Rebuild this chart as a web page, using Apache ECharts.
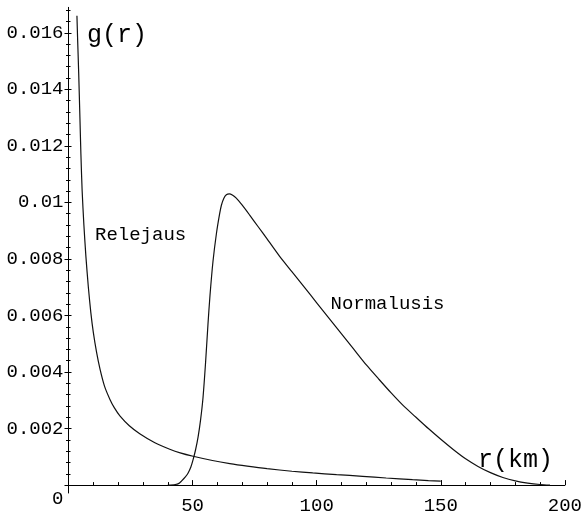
<!DOCTYPE html>
<html>
<head>
<meta charset="utf-8">
<title>g(r)</title>
<script src="https://cdn.jsdelivr.net/npm/echarts@6/dist/echarts.min.js"></script>
<style>
  html, body { margin: 0; padding: 0; background: #fff; }
  #chart { width: 585px; height: 515px; }
</style>
</head>
<body>
<div id="chart"></div>
<script>
// Rayleigh-type density ("Relejaus"): distance r in km, density g(r)
const relejausR = [3.4, 3.7, 4.1, 4.6, 5.0, 5.5, 6.2, 7.0, 8.0, 9.0, 10, 11.3, 12.7, 14.5, 16.7, 18.5, 20.7, 24.5, 28.7, 34.8, 40.8, 45, 50.2, 58, 65, 72, 80, 90, 98.4, 108, 118.5, 128, 138.6, 145, 150];
const relejausG = [0.0166, 0.0157, 0.0146, 0.0130, 0.0117, 0.0104, 0.0092, 0.0081, 0.0070, 0.0061, 0.0054, 0.0047, 0.0041, 0.0035, 0.00303, 0.00273, 0.00245, 0.0021, 0.00182, 0.0015, 0.00127, 0.00114, 0.00102, 0.00087, 0.00076, 0.00067, 0.00058, 0.00049, 0.00043, 0.00037, 0.00031, 0.00025, 0.00019, 0.00016, 0.00014];

// Normal density ("Normalusis")
const normalR = [40, 43, 44.5, 45.5, 47, 48.2, 49.3, 50.2, 51.2, 52.2, 53.2, 54.2, 55.2, 56.2, 57.0, 58.2, 59.6, 60.9, 61.6, 62.6, 63.6, 64.8, 66, 67.6, 70, 73, 76.5, 80, 85, 90, 95, 100, 105, 110, 115, 120, 125, 130, 135, 140, 145, 150, 155, 160, 165, 170, 175, 180, 185, 190, 194];
const normalG = [0, 0.00002, 0.00006, 0.00014, 0.00028, 0.00043, 0.00064, 0.0009, 0.00125, 0.0017, 0.0023, 0.0031, 0.0043, 0.0057, 0.0067, 0.0079, 0.0089, 0.0096, 0.0099, 0.01015, 0.01027, 0.0103, 0.01026, 0.01015, 0.0099, 0.00955, 0.00913, 0.00871, 0.0081, 0.00755, 0.007, 0.00645, 0.0059, 0.00535, 0.0048, 0.00425, 0.00375, 0.00326, 0.0028, 0.0024, 0.002, 0.00162, 0.00126, 0.00093, 0.00066, 0.00044, 0.00027, 0.00015, 0.00007, 0.00002, 0];

// Axis ticks
const yMajorTicks = [0, 0.002, 0.004, 0.006, 0.008, 0.01, 0.012, 0.014, 0.016];
const yMinorTicks = [];
for (let i = 0; i <= 42; i++) {
  if (i % 5 !== 0) yMinorTicks.push(+(i * 0.0004).toFixed(4));
}

const FONT = '"Liberation Mono", "Courier New", monospace';
const INK = '#000';
const Y_MIN = -0.00028, Y_MAX = 0.0169;

function pairs(xs, ys) { return xs.map((x, i) => [x, ys[i]]); }

function fmtY(v) {
  if (Math.abs(v) < 1e-12) return '{z|0}';
  return v.toFixed(3).replace(/0+$/, '');
}

function yAxisPart(opts) {
  return Object.assign({
    type: 'value',
    position: 'left',
    min: Y_MIN,
    max: Y_MAX,
    splitLine: { show: false },
    axisLine: { show: false },
    axisLabel: { show: false },
    axisTick: { show: false }
  }, opts);
}

const chart = echarts.init(document.getElementById('chart'), null, { renderer: 'canvas' });

chart.setOption({
  backgroundColor: '#fff',
  animation: false,
  grid: { left: 68.5, right: 19, top: 7.35, bottom: 18 },
  xAxis: {
    type: 'value',
    min: 0,
    max: 200,
    interval: 50,
    axisLine: { onZero: true, lineStyle: { color: INK, width: 1 } },
    axisTick: { inside: true, length: 5, lineStyle: { color: INK } },
    minorTick: { show: true, splitNumber: 5, length: 3, lineStyle: { color: INK } },
    splitLine: { show: false },
    minorSplitLine: { show: false },
    axisLabel: {
      margin: 3,
      color: INK,
      fontFamily: FONT,
      fontSize: 19,
      formatter: v => (v === 0 ? '' : String(v))
    }
  },
  yAxis: [
    yAxisPart({
      axisLine: { show: true, onZero: true, lineStyle: { color: INK, width: 1 } },
      axisTick: { show: true, length: 4, customValues: yMajorTicks, lineStyle: { color: INK } },
      axisLabel: {
        show: true,
        customValues: yMajorTicks,
        margin: 5,
        color: INK,
        fontFamily: FONT,
        fontSize: 19,
        formatter: fmtY,
        rich: { z: { padding: [28, 0, 0, 0], color: INK, fontFamily: FONT, fontSize: 19 } }
      }
    }),
    yAxisPart({
      axisTick: { show: true, inside: true, length: 3, customValues: yMajorTicks, lineStyle: { color: INK } }
    }),
    yAxisPart({
      axisTick: { show: true, length: 2.5, customValues: yMinorTicks, lineStyle: { color: INK } }
    }),
    yAxisPart({
      axisTick: { show: true, inside: true, length: 2, customValues: yMinorTicks, lineStyle: { color: INK } }
    })
  ],
  series: [
    {
      name: 'Relejaus',
      type: 'line',
      yAxisIndex: 0,
      data: pairs(relejausR, relejausG),
      showSymbol: false,
      smooth: 0.25,
      lineStyle: { color: '#111', width: 1.2 }
    },
    {
      name: 'Normalusis',
      type: 'line',
      yAxisIndex: 0,
      data: pairs(normalR, normalG),
      showSymbol: false,
      smooth: 0.25,
      lineStyle: { color: '#111', width: 1.2 }
    }
  ],
  graphic: [
    { type: 'text', x: 87, y: 35, style: { text: 'g(r)', fill: INK, fontFamily: FONT, fontSize: 25, align: 'left', verticalAlign: 'middle' } },
    { type: 'text', x: 478, y: 460, style: { text: 'r(km)', fill: INK, fontFamily: FONT, fontSize: 25, align: 'left', verticalAlign: 'middle' } },
    { type: 'text', x: 95, y: 234.5, style: { text: 'Relejaus', fill: INK, fontFamily: FONT, fontSize: 19, align: 'left', verticalAlign: 'middle' } },
    { type: 'text', x: 330.5, y: 304, style: { text: 'Normalusis', fill: INK, fontFamily: FONT, fontSize: 19, align: 'left', verticalAlign: 'middle' } }
  ]
});
</script>
</body>
</html>
